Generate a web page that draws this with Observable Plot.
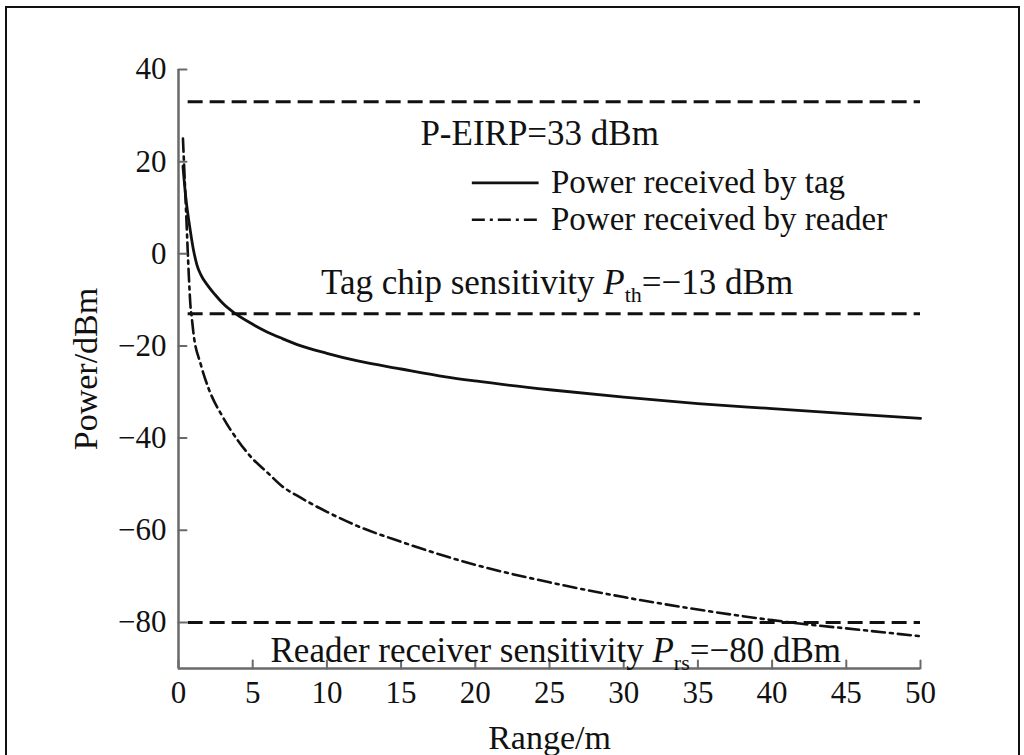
<!DOCTYPE html>
<html><head><meta charset="utf-8">
<script src="https://cdn.jsdelivr.net/npm/d3@7"></script>
<script src="https://cdn.jsdelivr.net/npm/@observablehq/plot@0.6"></script>
<style>
html,body{margin:0;padding:0;background:#fff;}
#wrap{position:relative;width:1024px;height:755px;overflow:hidden;background:#fff;}
#frame{position:absolute;left:5px;top:6px;width:1011px;height:800px;border:2px solid #111;pointer-events:none;}
</style></head>
<body><div id="wrap"><div id="chart"></div><div id="frame"></div></div>
<script>
// ---- data ----
const xTicks = [0, 5, 10, 15, 20, 25, 30, 35, 40, 45, 50];
const yTicks = [-80, -60, -40, -20, 0, 20, 40];

const tagRange = [0.3, 0.5, 0.75, 1.0, 1.25, 1.5, 2, 2.5, 3, 3.84, 5, 6, 7, 8, 10, 12, 15, 18, 20, 25, 30, 35, 40, 45, 50];
const tagPower = [19, 12, 6, 1, -2.5, -4.5, -7, -9, -10.8, -13, -15.3, -17, -18.4, -19.7, -21.6, -23.2, -25, -26.7, -27.6, -29.5, -31.1, -32.5, -33.6, -34.7, -35.7];

const readerRange = [0.3, 0.5, 0.7, 0.8, 0.9, 1.0, 1.5, 2, 3, 4, 5, 6, 7, 8, 10, 12, 15, 20, 25, 30, 35, 40, 42, 45, 50];
const readerPower = [25, 10, -5, -11, -14, -17, -24, -29, -35.5, -40.5, -44.5, -47.5, -50.5, -52.5, -56, -59, -62.5, -67.5, -71.3, -74.5, -77.2, -79.5, -80.3, -81.3, -83];

const thresholds = [33, -13, -80];
const thresholdLabels = ["P-EIRP=33 dBm", "Tag chip sensitivity Pth=\u221213 dBm", "Reader receiver sensitivity Prs=\u221280 dBm"];
const seriesNames = ["Power received by tag", "Power received by reader"];

// ---- layout (kept apart from data) ----
const labelPos = [{x: 16.3, y: 26.1}, {x: 9.6, y: -6.3}, {x: 6.2, y: -86.2}];
const legendY = [15.4, 7.4];
const legendX = [19.8, 24.3];
const legendTextX = 25.1;
const readerDash = "13,5,3,5";

const tag = tagRange.map((x, i) => ({x, y: tagPower[i]}));
const reader = readerRange.map((x, i) => ({x, y: readerPower[i]}));
const notes = thresholdLabels.map((t, i) => ({text: t, ...labelPos[i]}));
const legend = seriesNames.map((name, i) => ({name, y: legendY[i]}));

const axisColor = "#6a6a6a";
const font = "'Liberation Serif', 'Times New Roman', serif";
const tickShape = {draw(context, l) { context.moveTo(0, 0); context.lineTo(0, -l); }};

const fig = Plot.plot({
  width: 1024, height: 755,
  marginLeft: 178, marginRight: 104, marginTop: 69, marginBottom: 87,
  style: {fontFamily: font, fontSize: "31px", background: "transparent", color: "#111"},
  x: {domain: [0, 50]},
  y: {domain: [-90, 40]},
  marks: [
    Plot.ruleY(thresholds, {x1: 0.65, x2: 50, stroke: "#111", strokeWidth: 3, strokeDasharray: "15,7"}),
    Plot.line(reader, {x: "x", y: "y", curve: "monotone-x", stroke: "#111", strokeWidth: 2.6, strokeDasharray: readerDash}),
    Plot.line(tag, {x: "x", y: "y", curve: "monotone-x", stroke: "#111", strokeWidth: 2.8}),
    Plot.ruleX([0], {stroke: axisColor, strokeWidth: 2.5}),
    Plot.ruleY([-90], {stroke: axisColor, strokeWidth: 2.5}),
    Plot.vector(xTicks, {x: d => d, y: () => -90, length: 8, rotate: 0, anchor: "start", shape: tickShape, stroke: axisColor, strokeWidth: 2}),
    Plot.vector(yTicks, {x: () => 0, y: d => d, length: 8, rotate: 90, anchor: "start", shape: tickShape, stroke: axisColor, strokeWidth: 2}),
    Plot.axisX({ticks: xTicks, tickSize: 0, tickPadding: 12, fontSize: 31, label: null}),
    Plot.axisX({ticks: [], tickSize: 0, label: "Range/m", labelAnchor: "center", labelArrow: "none", labelOffset: 80, fontSize: 34}),
    Plot.axisY({ticks: yTicks, tickSize: 0, tickPadding: 12, fontSize: 31, label: null}),
    Plot.axisY({ticks: [], tickSize: 0, label: "Power/dBm", labelAnchor: "center", labelArrow: "none", labelOffset: 106, fontSize: 34}),
    Plot.text(notes, {x: "x", y: "y", text: "text", textAnchor: "start", lineAnchor: "middle", fontSize: 35, fill: "#111"}),
    Plot.ruleY(legend.slice(0, 1), {y: "y", x1: legendX[0], x2: legendX[1], stroke: "#111", strokeWidth: 2.6}),
    Plot.ruleY(legend.slice(1), {y: "y", x1: legendX[0], x2: legendX[1], stroke: "#111", strokeWidth: 2.6, strokeDasharray: readerDash}),
    Plot.text(legend, {x: legendTextX, y: "y", text: "name", textAnchor: "start", lineAnchor: "middle", fontSize: 33, fill: "#111"})
  ]
});
document.getElementById("chart").appendChild(fig);

// italic P with subscript for P_th and P_rs
d3.select(fig).selectAll("text").each(function () {
  const t = this.textContent;
  const m = t.match(/^(.*)P(th|rs)(=.*)$/);
  if (!m) return;
  const el = d3.select(this);
  el.text(null);
  el.append("tspan").text(m[1]);
  el.append("tspan").attr("font-style", "italic").text("P");
  el.append("tspan").attr("font-size", 22).attr("dy", 8).text(m[2]);
  el.append("tspan").attr("dy", -8).text(m[3]);
});
</script>
</body></html>
